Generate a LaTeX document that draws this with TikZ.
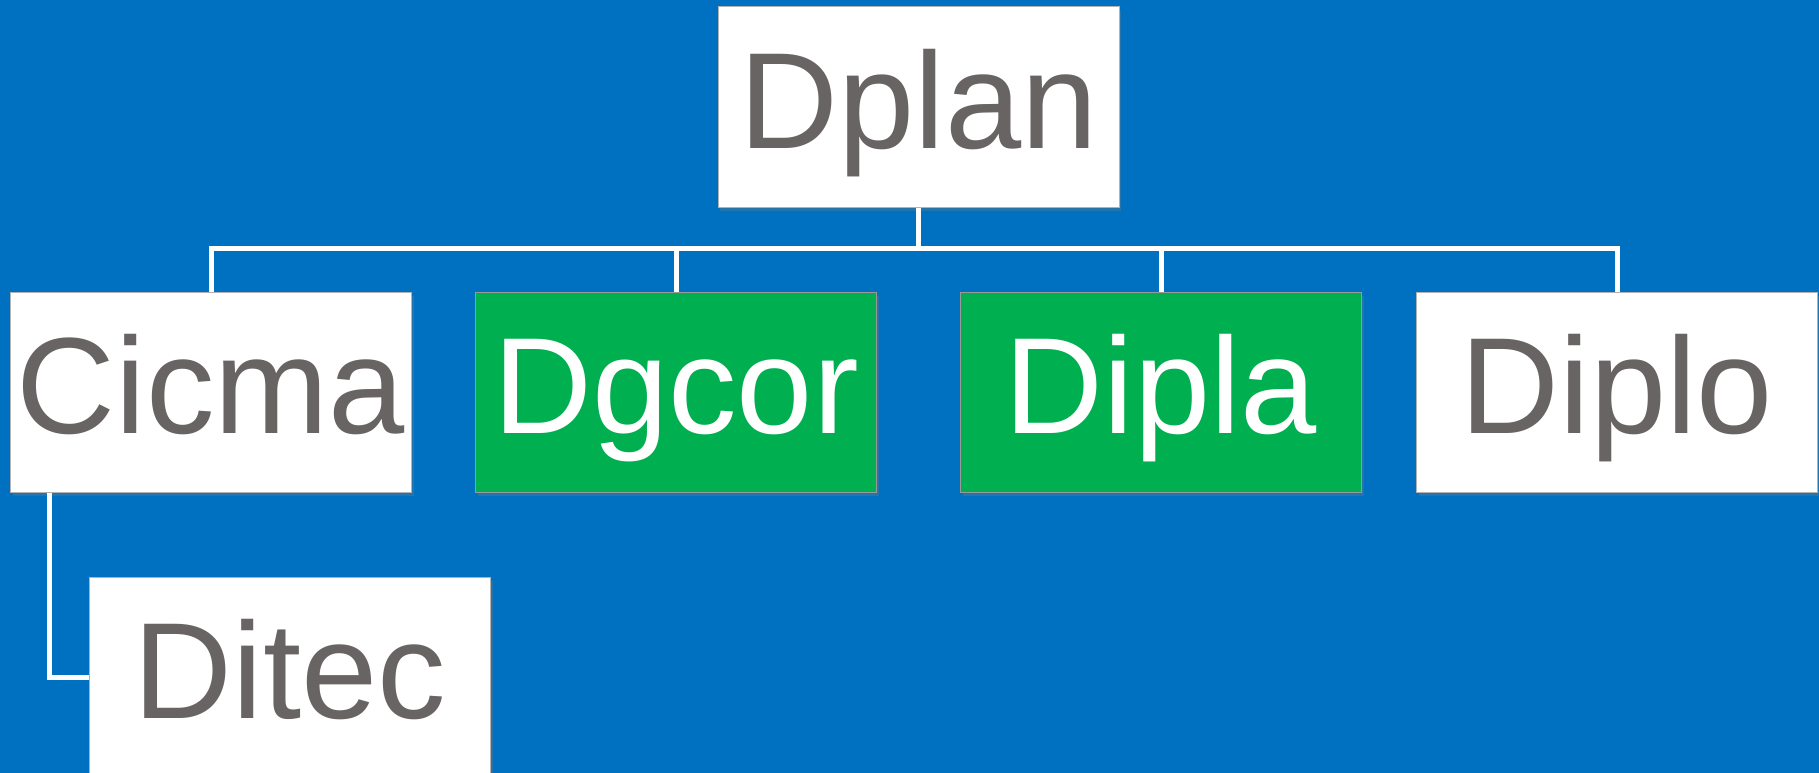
\documentclass[tikz,border=0pt]{standalone}
\usepackage{fontspec}
\setmainfont{Liberation Sans}
\usepackage{tikz}
\usetikzlibrary{positioning,calc,shadows}
\definecolor{slideblue}{HTML}{0070C0}
\definecolor{boxgreen}{HTML}{00B050}
\definecolor{boxtext}{HTML}{686463}
\tikzset{orgbox/.style={draw=gray!60, line width=1pt, fill=white, text=boxtext,
    minimum width=401pt, minimum height=200pt, inner sep=0pt,
    text height=100pt, text depth=17pt,
    font=\fontsize{137pt}{160pt}\selectfont,
    drop shadow={opacity=0.3, shadow xshift=2pt, shadow yshift=-4pt}}}
\tikzset{orggreen/.style={orgbox, fill=boxgreen, text=white, draw=black!40}}
\tikzset{conn/.style={draw=white, line width=5pt}}
\begin{document}
\begin{tikzpicture}[x=1pt, y=-1pt]
    \fill[slideblue] (0,0) rectangle (1819,773);
    \useasboundingbox (0,0) rectangle (1819,773);
    \node[orgbox] (plan) at (918.5,107) {Dplan};
    \node[orgbox] (cicma) at (211,392) {Cicma};
    \node[orggreen] (dgcor) at (676,392) {Dgcor};
    \node[orggreen] (dipla) at (1161,392) {Dipla};
    \node[orgbox] (diplo) at (1617,392) {Diplo};
    \node[orgbox] (ditec) at (290,677) {Ditec};
    \foreach \n in {cicma,dgcor,dipla,diplo}
        \draw[conn] (plan.south) -- ++(0,41) -| (\n.north);
    \draw[conn] ([xshift=-162pt]cicma.south) |- (ditec.west);
\end{tikzpicture}
\end{document}
